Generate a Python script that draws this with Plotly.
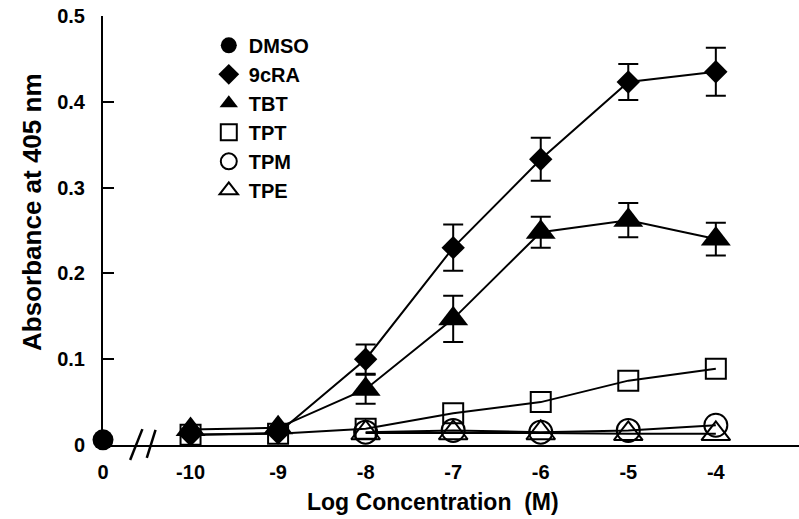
import plotly.graph_objects as go

# ---- data ----
x_tick_vals = [-11, -10, -9, -8, -7, -6, -5, -4]
x_tick_text = ["0", "-10", "-9", "-8", "-7", "-6", "-5", "-4"]

dmso_x = [-11]
dmso_y = [0.006]

conc = [-10, -9, -8, -7, -6, -5, -4]
cra_y = [0.012, 0.014, 0.100, 0.230, 0.333, 0.423, 0.435]
cra_err = [0, 0, 0.017, 0.027, 0.025, 0.021, 0.028]

tbt_y = [0.018, 0.020, 0.065, 0.147, 0.248, 0.262, 0.240]
tbt_err = [0, 0, 0.017, 0.027, 0.018, 0.020, 0.019]

tpt_y = [0.012, 0.013, 0.019, 0.037, 0.050, 0.075, 0.089]

conc_low = [-8, -7, -6, -5, -4]
tpm_y = [0.015, 0.017, 0.015, 0.017, 0.023]
tpe_y = [0.014, 0.014, 0.014, 0.013, 0.013]

FONT = "Liberation Sans, Arial, sans-serif"

fig = go.Figure()

line_style = dict(color="black", width=2)

# lines (no legend)
for xs, ys in [(conc, cra_y), (conc, tbt_y), (conc, tpt_y), (conc_low, tpm_y), (conc_low, tpe_y)]:
    fig.add_trace(go.Scatter(x=xs, y=ys, mode="lines", line=line_style,
                             showlegend=False, hoverinfo="skip"))

def err(arr):
    return dict(type="data", array=arr, visible=True, color="black", thickness=2, width=10)

fig.add_trace(go.Scatter(x=dmso_x, y=dmso_y, mode="markers", name="DMSO",
                         marker=dict(symbol="circle", size=21, color="black"),
                         cliponaxis=False))
fig.add_trace(go.Scatter(x=conc, y=cra_y, mode="markers", name="9cRA",
                         marker=dict(symbol="diamond", size=18, color="black"),
                         error_y=err(cra_err), cliponaxis=False))
fig.add_trace(go.Scatter(x=conc, y=tbt_y, mode="markers", name="TBT",
                         marker=dict(symbol="triangle-up", size=26, color="black"),
                         error_y=err(tbt_err), cliponaxis=False))
fig.add_trace(go.Scatter(x=conc, y=tpt_y, mode="markers", name="TPT",
                         marker=dict(symbol="square-open", size=20, color="black",
                                     line=dict(width=2, color="black")),
                         cliponaxis=False))
fig.add_trace(go.Scatter(x=conc_low, y=tpm_y, mode="markers", name="TPM",
                         marker=dict(symbol="circle-open", size=23, color="black",
                                     line=dict(width=2, color="black")),
                         cliponaxis=False))
fig.add_trace(go.Scatter(x=conc_low, y=tpe_y, mode="markers", name="TPE",
                         marker=dict(symbol="triangle-up-open", size=25, color="black",
                                     line=dict(width=2, color="black")),
                         cliponaxis=False))

# axis break marks "//"
for (xa, ya, xb, yb) in [(-10.69, -0.035, -10.55, 0.037), (-10.50, -0.030, -10.40, 0.035)]:
    fig.add_shape(type="line", xref="x", yref="paper", x0=xa, y0=ya, x1=xb, y1=yb,
                  line=dict(color="black", width=2.5))

fig.update_layout(
    width=799, height=519,
    margin=dict(l=103, r=0, t=16, b=74),
    paper_bgcolor="white", plot_bgcolor="white",
    font=dict(family=FONT, color="black", weight="bold"),
    xaxis=dict(range=[-11, -3.05], tickvals=x_tick_vals, ticktext=x_tick_text,
               showline=True, linecolor="black", linewidth=2, ticks="",
               showgrid=False, zeroline=False,
               tickfont=dict(family=FONT, size=20, weight="bold", color="black"),
               ticklabelstandoff=8),
    yaxis=dict(range=[0, 0.5], tickvals=[0, 0.1, 0.2, 0.3, 0.4, 0.5],
               ticktext=["0", "0.1", "0.2", "0.3", "0.4", "0.5"],
               showline=True, linecolor="black", linewidth=2,
               ticks="inside", ticklen=11, tickwidth=2, tickcolor="black",
               showgrid=False, zeroline=False,
               tickfont=dict(family=FONT, size=20, weight="bold", color="black"),
               ticklabelstandoff=12),
    legend=dict(x=0.152, y=0.977, xanchor="left", yanchor="top",
                font=dict(family=FONT, size=20, weight="bold", color="black"),
                bgcolor="rgba(0,0,0,0)", itemwidth=30),
    annotations=[
        dict(text="Absorbance at 405 nm", textangle=-90, xref="paper", yref="paper",
             x=-0.102, y=0.541, xanchor="center", yanchor="middle", showarrow=False,
             font=dict(family=FONT, size=26, weight="bold", color="black")),
        dict(text="Log Concentration  (M)", xref="paper", yref="paper",
             x=0.474, y=-0.133, xanchor="center", yanchor="middle", showarrow=False,
             font=dict(family=FONT, size=23, weight="bold", color="black")),
    ],
)

fig.write_html("out.html")
